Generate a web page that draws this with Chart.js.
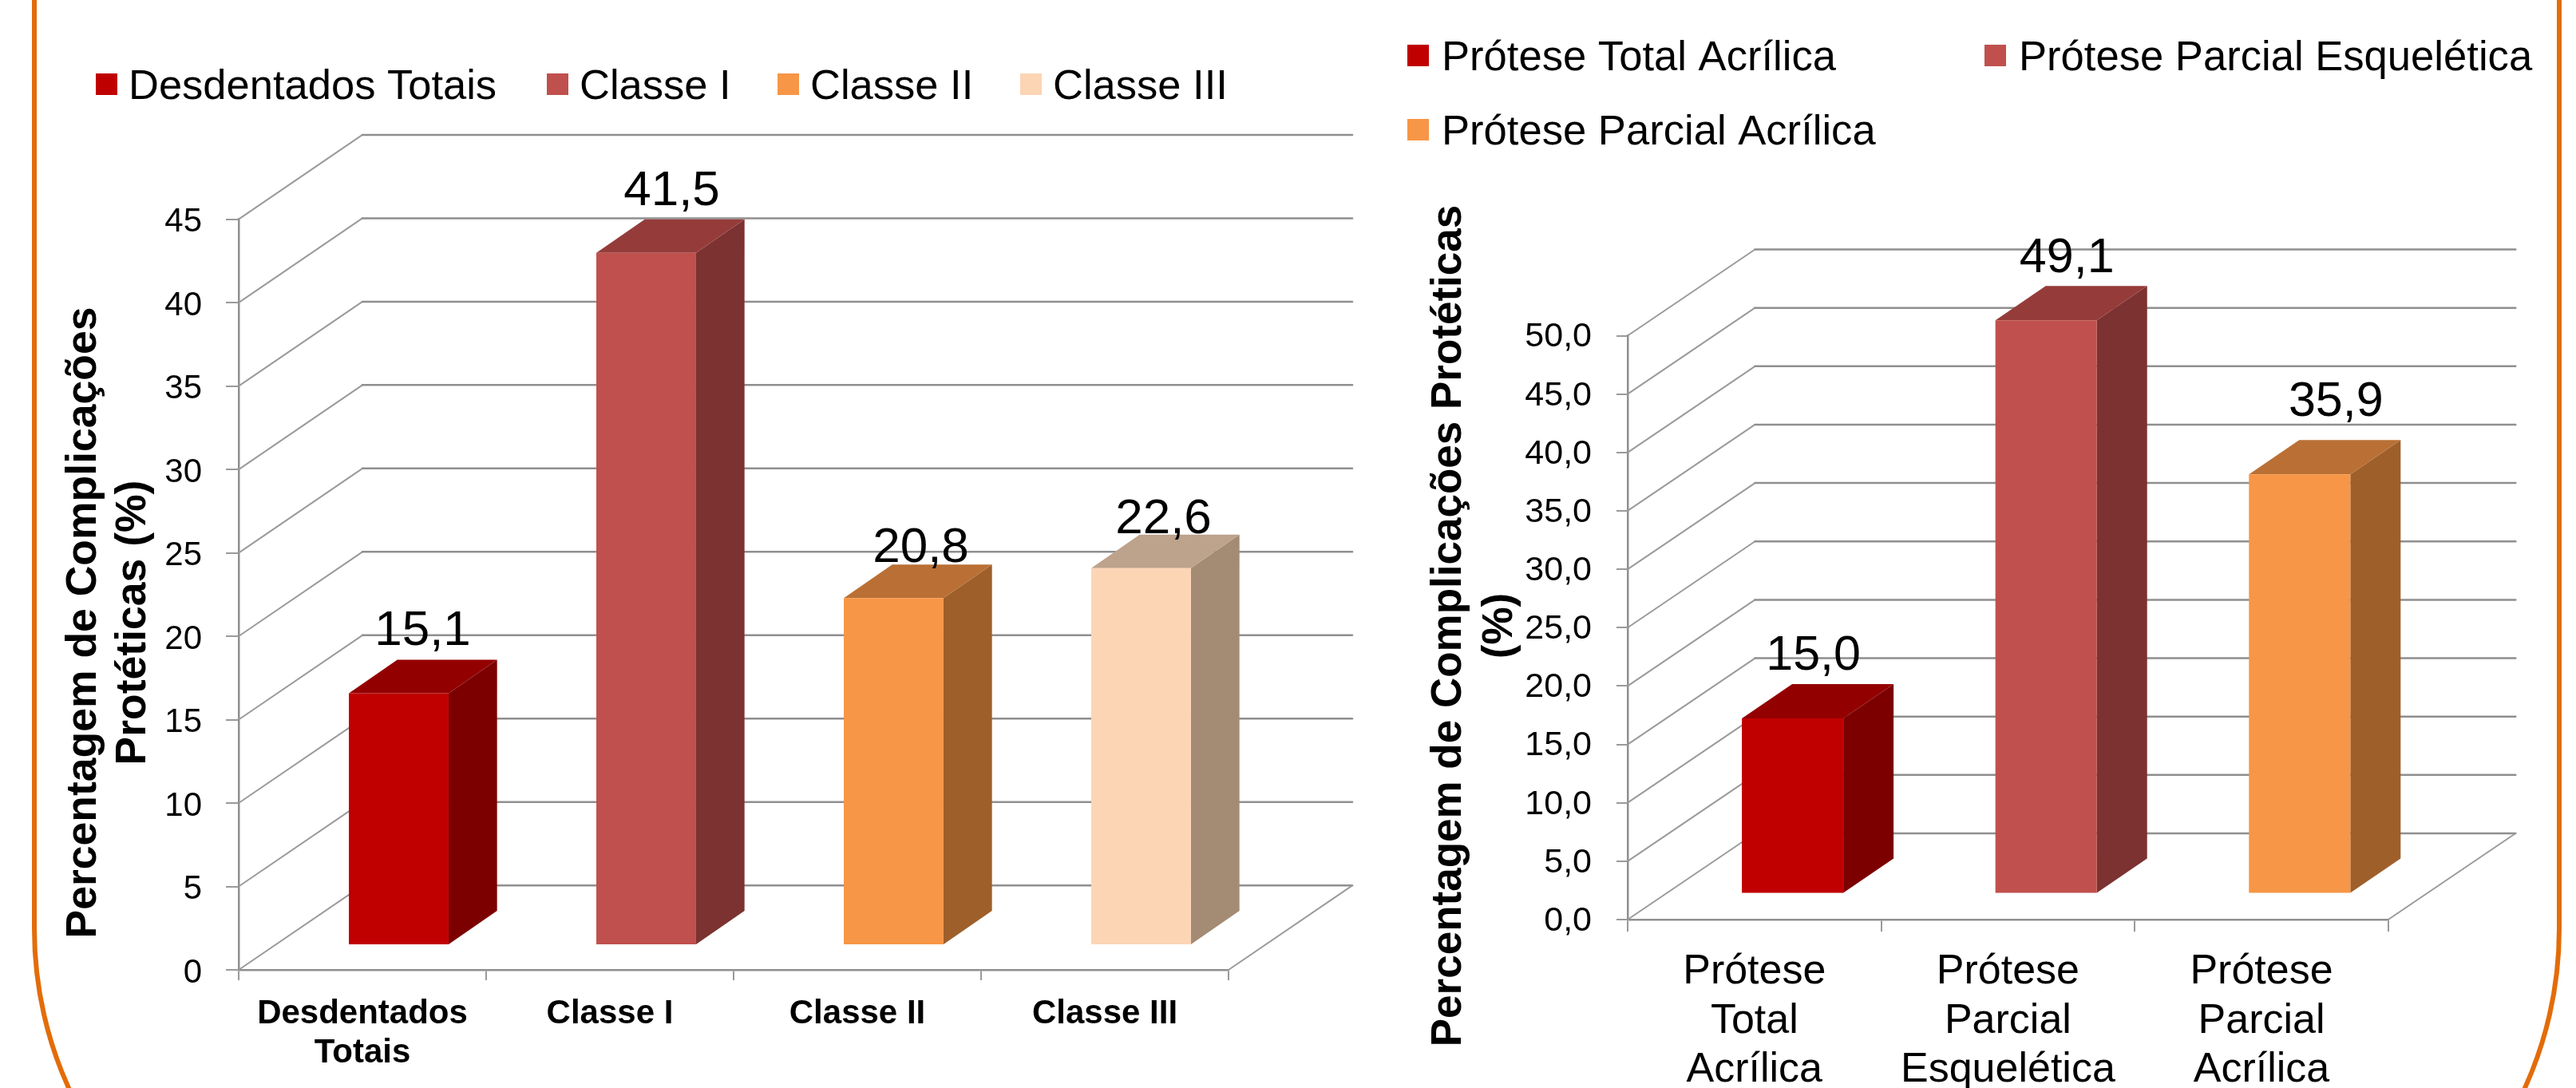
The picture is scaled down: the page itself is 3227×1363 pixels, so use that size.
<!DOCTYPE html>
<html lang="pt">
<head>
<meta charset="utf-8">
<title>Complicações protéticas</title>
<script src="https://cdn.jsdelivr.net/npm/chart.js@4"></script>
<style>
  html, body { margin: 0; padding: 0; background: #fff; width: 3227px; height: 1363px; overflow: hidden; }
  #moldura {
    position: absolute; left: 40px; top: -900px; width: 3157px; height: 2541px;
    border: 6px solid #e36c09; border-radius: 490px;
  }
  canvas { position: absolute; top: 0; }
  #graficoEsq { left: 0; }
  #graficoDir { left: 1720px; }
</style>
</head>
<body>
<div id="moldura"></div>
<canvas id="graficoEsq" width="1720" height="1363"></canvas>
<canvas id="graficoDir" width="1507" height="1363"></canvas>
<script>
const categoriasEsq = [["Desdentados", "Totais"], "Classe I", "Classe II", "Classe III"];
const legendaEsq = ["Desdentados Totais", "Classe I", "Classe II", "Classe III"];
const valoresEsq = [15.1, 41.5, 20.8, 22.6];

const categoriasDir = [["Prótese", "Total", "Acrílica"], ["Prótese", "Parcial", "Esquelética"], ["Prótese", "Parcial", "Acrílica"]];
const legendaDir = ["Prótese Total Acrílica", "Prótese Parcial Esquelética", "Prótese Parcial Acrílica"];
const valoresDir = [15.0, 49.1, 35.9];

const tituloEsq = ["Percentagem de Complicações", "Protéticas (%)"];
const tituloDir = ["Percentagem de Complicações Protéticas", "(%)"];

const coresFrente = ["#c00000", "#c0504d", "#f79646", "#fcd5b5"];
const coresLado = ["#7c0000", "#7b3230", "#9e5f2b", "#a38b74"];
const coresTopo = ["#930000", "#953c3a", "#ba7034", "#bda28c"];

const FONTE = '"Liberation Sans", Arial, sans-serif';
const COR_GRADE = "#8f8f8f";
const COR_DIAGONAL = "#9a9a9a";

Chart.defaults.font.family = FONTE;
Chart.defaults.color = "#000";

function poligono(ctx, pontos, cor) {
  ctx.fillStyle = cor;
  ctx.beginPath();
  pontos.forEach((p, i) => (i ? ctx.lineTo(p[0], p[1]) : ctx.moveTo(p[0], p[1])));
  ctx.closePath();
  ctx.fill();
}

function linha(ctx, x1, y1, x2, y2, cor, larg) {
  ctx.strokeStyle = cor;
  ctx.lineWidth = larg;
  ctx.beginPath();
  ctx.moveTo(x1, y1);
  ctx.lineTo(x2, y2);
  ctx.stroke();
}

// parede de fundo e chao em falsa perspectiva, a partir da escala y
const pluginGrade3d = {
  id: "grade3d",
  beforeDatasetsDraw(chart, args, op) {
    const { ctx, chartArea: area, scales } = chart;
    ctx.save();
    ctx.lineCap = "round";
    scales.y.ticks.forEach((t) => {
      const y = scales.y.getPixelForValue(t.value);
      linha(ctx, area.left, y, area.left + op.dx, y - op.dy, COR_DIAGONAL, 2);
      linha(ctx, area.left + op.dx, y - op.dy, area.right + op.dx, y - op.dy, COR_GRADE, 2.5);
    });
    linha(ctx, area.right, area.bottom, area.right + op.dx, area.bottom - op.dy, COR_DIAGONAL, 2);
    ctx.restore();
  },
};

// a frente da barra e desenhada pelo proprio Chart.js, so deslocada para dentro do chao
const pluginBarra3d = {
  id: "barra3d",
  beforeDatasetDraw(chart, args, op) {
    const { ctx } = chart;
    ctx.save();
    ctx.translate(op.desloc[0], -op.desloc[1]);
    chart.getDatasetMeta(args.index).data.forEach((barra, i) => {
      const esq = barra.x - barra.width / 2;
      const dir = barra.x + barra.width / 2;
      const [pdx, pdy] = op.prof;
      poligono(ctx, [[dir, barra.y], [dir + pdx, barra.y - pdy], [dir + pdx, barra.base - pdy], [dir, barra.base]], coresLado[i]);
      poligono(ctx, [[esq, barra.y], [esq + pdx, barra.y - pdy], [dir + pdx, barra.y - pdy], [dir, barra.y]], coresTopo[i]);
    });
  },
  afterDatasetDraw(chart) {
    chart.ctx.restore();
  },
};

const pluginTextos = {
  id: "textos",
  afterDraw(chart, args, op) {
    const { ctx } = chart;
    ctx.save();
    ctx.fillStyle = "#000";

    // rotulos de valor
    ctx.font = `${op.tamRotulo}px ${FONTE}`;
    ctx.textAlign = "center";
    ctx.textBaseline = "alphabetic";
    const ds = chart.data.datasets[0];
    chart.getDatasetMeta(0).data.forEach((barra, i) => {
      const x = barra.x + op.desloc[0] + op.ajusteRotulo[i][0];
      const y = barra.y - op.desloc[1] + op.ajusteRotulo[i][1];
      ctx.fillText(ds.data[i].toFixed(1).replace(".", ","), x, y);
    });

    // legenda
    ctx.font = `${op.tamLegenda}px ${FONTE}`;
    ctx.textAlign = "left";
    op.legenda.nomes.forEach((nome, i) => {
      const [x, y] = op.legenda.pos[i];
      ctx.fillStyle = coresFrente[i];
      ctx.fillRect(x, y, op.legenda.caixa, op.legenda.caixa);
      ctx.fillStyle = "#000";
      ctx.fillText(nome, x + op.legenda.recuo, y + op.legenda.base);
    });

    // titulo do eixo y
    ctx.font = `bold ${op.titulo.tam}px ${FONTE}`;
    ctx.textAlign = "center";
    op.titulo.linhas.forEach((texto, i) => {
      ctx.save();
      ctx.translate(op.titulo.x[i], op.titulo.y[i]);
      ctx.rotate(-Math.PI / 2);
      ctx.fillText(texto, 0, 0);
      ctx.restore();
    });
    ctx.restore();
  },
};

function criarGrafico(id, cfg) {
  return new Chart(document.getElementById(id), {
    type: "bar",
    data: {
      labels: cfg.categorias,
      datasets: [{
        data: cfg.valores,
        backgroundColor: cfg.valores.map((v, i) => coresFrente[i]),
        barPercentage: cfg.largBarra,
        categoryPercentage: 1,
      }],
    },
    plugins: [pluginGrade3d, pluginBarra3d, pluginTextos],
    options: {
      responsive: false,
      animation: false,
      layout: { padding: cfg.margem },
      plugins: {
        legend: { display: false },
        tooltip: { enabled: false },
        grade3d: { dx: cfg.parede[0], dy: cfg.parede[1] },
        barra3d: { desloc: cfg.desloc, prof: cfg.prof },
        textos: {
          desloc: cfg.desloc,
          ajusteRotulo: cfg.ajusteRotulo,
          tamRotulo: cfg.tamRotulo,
          tamLegenda: cfg.tamLegenda,
          legenda: cfg.legenda,
          titulo: cfg.titulo,
        },
      },
      scales: {
        x: {
          afterFit: (s) => { s.height = cfg.altEixoX; },
          border: { color: COR_GRADE, width: 2.5 },
          grid: { drawOnChartArea: false, color: COR_DIAGONAL, lineWidth: 2, tickLength: cfg.ticX },
          ticks: {
            font: cfg.fonteX,
            padding: cfg.padX,
            maxRotation: 0,
            autoSkip: false,
          },
        },
        y: {
          min: 0,
          max: cfg.maxY,
          afterFit: (s) => { s.width = cfg.largEixoY; },
          border: { color: COR_GRADE, width: 2.5 },
          grid: { drawOnChartArea: false, color: COR_DIAGONAL, lineWidth: 2, tickLength: cfg.ticY },
          ticks: {
            stepSize: 5,
            font: { size: cfg.tamY },
            padding: cfg.padY,
            labelOffset: cfg.ajusteY,
            callback: cfg.formatoY,
          },
        },
      },
    },
  });
}

criarGrafico("graficoEsq", {
  categorias: categoriasEsq,
  valores: valoresEsq,
  maxY: 45,
  formatoY: (v) => String(v),
  largBarra: 0.403,
  margem: { top: 274.6, right: 181, bottom: 0, left: 0 },
  largEixoY: 299,
  altEixoX: 148,
  parede: [155, 105.7],
  desloc: [45.5, 31],
  prof: [60.7, 42],
  ticX: 13, ticY: 16,
  padX: 18, padY: 30,
  tamY: 42, ajusteY: 4,
  fonteX: { size: 42, weight: "bold", lineHeight: 1.167 },
  tamRotulo: 62,
  ajusteRotulo: [[30, -60], [32, -60], [34, -45], [28, -44]],
  tamLegenda: 52.5,
  legenda: {
    nomes: legendaEsq,
    pos: [[120, 92], [685, 92], [974, 92], [1278, 92]],
    caixa: 27, recuo: 41, base: 32,
  },
  titulo: { linhas: tituloEsq, tam: 53.5, x: [120, 182], y: [780, 780] },
});

criarGrafico("graficoDir", {
  categorias: categoriasDir,
  valores: valoresDir,
  maxY: 50,
  formatoY: (v) => v.toFixed(1).replace(".", ","),
  largBarra: 0.4,
  margem: { top: 420.5, right: 235.2, bottom: 0, left: 0 },
  largEixoY: 319,
  altEixoX: 211,
  parede: [159.5, 108],
  desloc: [47.8, 32.5],
  prof: [63, 43],
  ticX: 15, ticY: 14,
  padX: 20, padY: 31,
  tamY: 43, ajusteY: 2,
  fonteX: { size: 52, lineHeight: 1.183 },
  tamRotulo: 61,
  ajusteRotulo: [[26, -61], [26, -60], [45.5, -73]],
  tamLegenda: 52.6,
  legenda: {
    nomes: legendaDir,
    pos: [[43, 56], [766, 56], [43, 149]],
    caixa: 27, recuo: 43, base: 32,
  },
  titulo: { linhas: tituloDir, tam: 53, x: [110, 174], y: [784, 784] },
});
</script>
</body>
</html>
